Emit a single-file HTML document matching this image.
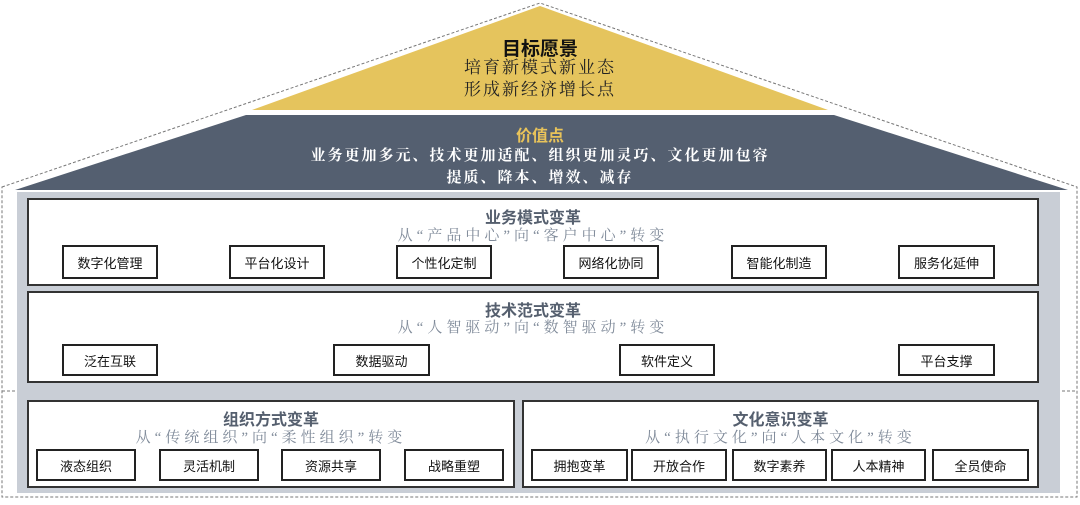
<!DOCTYPE html>
<html><head><meta charset="utf-8"><style>
body{margin:0;width:1080px;height:505px;background:#fff;position:relative;overflow:hidden;font-family:"Liberation Sans","Noto Sans CJK SC",sans-serif}
.abs{position:absolute}
.panel{position:absolute;background:#fff;border:2px solid #333;box-sizing:border-box}
.t{position:absolute;left:0;right:0;text-align:center;font-weight:bold;font-size:16px;color:#555f6e}
.s{position:absolute;left:0;right:0;text-align:center;font-size:15px;color:#7f8a99;font-family:"Liberation Serif","Noto Serif CJK SC",serif;letter-spacing:4px}
.b{position:absolute;border:2px solid #222;box-sizing:border-box;background:#fff;font-size:13px;color:#111;display:flex;align-items:center;justify-content:center}
.serif{font-family:"Liberation Serif","Noto Serif CJK SC",serif}
</style></head><body>
<svg class="abs" style="left:0;top:0" width="1080" height="505">
<polygon points="2,187 540,3 1077,187 1077,497 2,497" fill="none" stroke="#777" stroke-dasharray="3,2" stroke-width="1"/>
<line x1="2" y1="391" x2="1077" y2="391" stroke="#777" stroke-dasharray="3,2"/>
<polygon points="540,6 828,110 252,110" fill="#e5c45d"/>
<polygon points="246,115 834,115 1068,190 15,190" fill="#545f70"/>
<rect x="17" y="192" width="1043" height="301" fill="#c9ced6"/>
</svg>
<div class="abs" style="left:0;right:0;top:34px;text-align:center;font-weight:bold;font-size:19px;color:#111">目标愿景</div>
<div class="abs serif" style="left:0;right:0;top:57px;text-align:center;font-size:17px;color:#222;line-height:22px;letter-spacing:2px">培育新模式新业态<br>形成新经济增长点</div>
<div class="abs" style="left:0;right:0;top:122px;text-align:center;font-weight:bold;font-size:16px;color:#e8c35a">价值点</div>
<div class="abs serif" style="left:0;right:0;top:145px;text-align:center;font-size:15px;color:#fff;line-height:22px;letter-spacing:2px;font-weight:bold">业务更加多元、技术更加适配、组织更加灵巧、文化更加包容<br>提质、降本、增效、减存</div>

<div class="panel" style="left:27px;top:198px;width:1012px;height:88px">
<div class="t" style="top:4px">业务模式变革</div><div class="s" style="top:24px">从“产品中心”向“客户中心”转变</div></div>
<div class="b" style="left:62px;top:245px;width:96px;height:34px">数字化管理</div>
<div class="b" style="left:229px;top:245px;width:96px;height:34px">平台化设计</div>
<div class="b" style="left:396px;top:245px;width:96px;height:34px">个性化定制</div>
<div class="b" style="left:563px;top:245px;width:96px;height:34px">网络化协同</div>
<div class="b" style="left:731px;top:245px;width:96px;height:34px">智能化制造</div>
<div class="b" style="left:898px;top:245px;width:97px;height:34px">服务化延伸</div>

<div class="panel" style="left:27px;top:291px;width:1012px;height:92px">
<div class="t" style="top:4px">技术范式变革</div><div class="s" style="top:23px">从“人智驱动”向“数智驱动”转变</div></div>
<div class="b" style="left:62px;top:344px;width:96px;height:32px">泛在互联</div>
<div class="b" style="left:333px;top:344px;width:97px;height:32px">数据驱动</div>
<div class="b" style="left:619px;top:344px;width:96px;height:32px">软件定义</div>
<div class="b" style="left:898px;top:344px;width:97px;height:32px">平台支撑</div>

<div class="panel" style="left:27px;top:400px;width:488px;height:88px">
<div class="t" style="top:4px">组织方式变革</div><div class="s" style="top:24px">从“传统组织”向“柔性组织”转变</div></div>
<div class="b" style="left:36px;top:449px;width:100px;height:32px">液态组织</div>
<div class="b" style="left:159px;top:449px;width:100px;height:32px">灵活机制</div>
<div class="b" style="left:281px;top:449px;width:100px;height:32px">资源共享</div>
<div class="b" style="left:404px;top:449px;width:100px;height:32px">战略重塑</div>

<div class="panel" style="left:522px;top:400px;width:517px;height:88px">
<div class="t" style="top:4px">文化意识变革</div><div class="s" style="top:24px">从“执行文化”向“人本文化”转变</div></div>
<div class="b" style="left:531px;top:449px;width:97px;height:32px">拥抱变革</div>
<div class="b" style="left:631px;top:449px;width:96px;height:32px">开放合作</div>
<div class="b" style="left:732px;top:449px;width:95px;height:32px">数字素养</div>
<div class="b" style="left:831px;top:449px;width:95px;height:32px">人本精神</div>
<div class="b" style="left:932px;top:449px;width:97px;height:32px">全员使命</div>
</body></html>
